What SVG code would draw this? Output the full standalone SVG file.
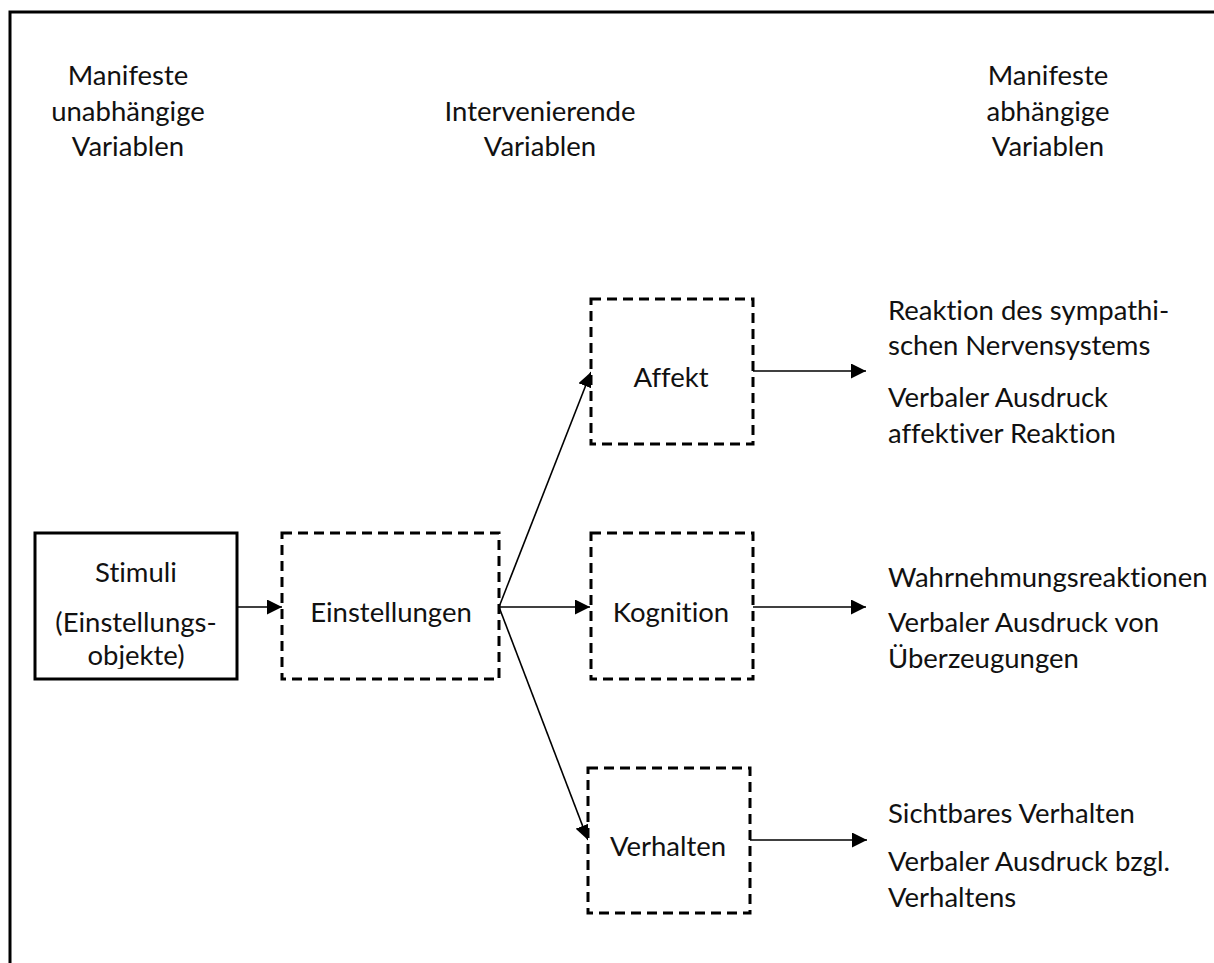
<svg xmlns="http://www.w3.org/2000/svg" width="1214" height="963" viewBox="0 0 1214 963">
  <style>
    text { font-family: Lato, "Open Sans", "Liberation Sans", sans-serif; font-size: 27.5px; fill: #111; font-variant-ligatures: none; font-feature-settings: "liga" 0, "clig" 0; }
    .mid { text-anchor: middle; }
    .frame { fill: none; stroke: #000; stroke-width: 3; }
    .solid { fill: #fff; stroke: #000; stroke-width: 3; }
    .dashed { fill: #fff; stroke: #000; stroke-width: 3; stroke-dasharray: 10 6; }
    .conn { stroke: #000; stroke-width: 1.6; fill: none; marker-end: url(#arrow); }
  </style>
  <defs>
    <marker id="arrow" viewBox="0 0 15 15" refX="15" refY="7.5" markerWidth="15" markerHeight="15" markerUnits="userSpaceOnUse" orient="auto">
      <path d="M0,0 L15,7.5 L0,15 Z" fill="#000"/>
    </marker>
    <clipPath id="stimuli-clip">
      <rect x="35" y="533" width="202" height="136"/>
    </clipPath>
  </defs>
  <rect width="1214" height="963" fill="#fff"/>
  <!-- outer frame, open to the right and bottom -->
  <rect class="frame" x="10" y="12" width="1220" height="970"/>

  <!-- column headings -->
  <g id="header-independent">
    <text class="mid" x="128" y="85">Manifeste</text>
    <text class="mid" x="128" y="121">unabhängige</text>
    <text class="mid" x="128" y="156">Variablen</text>
  </g>
  <g id="header-intervening">
    <text class="mid" x="540" y="121">Intervenierende</text>
    <text class="mid" x="540" y="156">Variablen</text>
  </g>
  <g id="header-dependent">
    <text class="mid" x="1048" y="85">Manifeste</text>
    <text class="mid" x="1048" y="121">abhängige</text>
    <text class="mid" x="1048" y="156">Variablen</text>
  </g>

  <!-- connectors -->
  <g id="connectors">
    <line class="conn" x1="237" y1="607" x2="282" y2="607"/>
    <line class="conn" x1="499" y1="607" x2="591" y2="372"/>
    <line class="conn" x1="499" y1="607" x2="590" y2="607"/>
    <line class="conn" x1="499" y1="607" x2="588" y2="840"/>
    <line class="conn" x1="753" y1="371" x2="866" y2="371"/>
    <line class="conn" x1="753" y1="607" x2="866" y2="607"/>
    <line class="conn" x1="750" y1="840" x2="867" y2="840"/>
  </g>

  <!-- nodes -->
  <g id="stimuli">
    <rect class="solid" x="35" y="533" width="202" height="146"/>
    <g clip-path="url(#stimuli-clip)">
      <text class="mid" x="136" y="582">Stimuli</text>
      <text class="mid" x="136" y="632">(Einstellungs-</text>
      <text class="mid" x="136" y="665">objekte)</text>
    </g>
  </g>
  <g id="einstellungen">
    <rect class="dashed" x="282" y="533" width="217" height="146"/>
    <text class="mid" x="391" y="622">Einstellungen</text>
  </g>
  <g id="affekt">
    <rect class="dashed" x="591" y="299" width="162" height="145"/>
    <text class="mid" x="671" y="387">Affekt</text>
  </g>
  <g id="kognition">
    <rect class="dashed" x="591" y="533" width="162" height="146"/>
    <text class="mid" x="671" y="622">Kognition</text>
  </g>
  <g id="verhalten">
    <rect class="dashed" x="588" y="768" width="162" height="145"/>
    <text class="mid" x="668" y="856">Verhalten</text>
  </g>

  <!-- observed responses -->
  <g id="responses-affekt">
    <text x="888" y="320">Reaktion des sympathi-</text>
    <text x="888" y="355">schen Nervensystems</text>
    <text x="888" y="407">Verbaler Ausdruck</text>
    <text x="888" y="443">affektiver Reaktion</text>
  </g>
  <g id="responses-kognition">
    <text x="888" y="587">Wahrnehmungsreaktionen</text>
    <text x="888" y="632">Verbaler Ausdruck von</text>
    <text x="888" y="668">Überzeugungen</text>
  </g>
  <g id="responses-verhalten">
    <text x="888" y="823">Sichtbares Verhalten</text>
    <text x="888" y="871">Verbaler Ausdruck bzgl.</text>
    <text x="888" y="907">Verhaltens</text>
  </g>
</svg>
